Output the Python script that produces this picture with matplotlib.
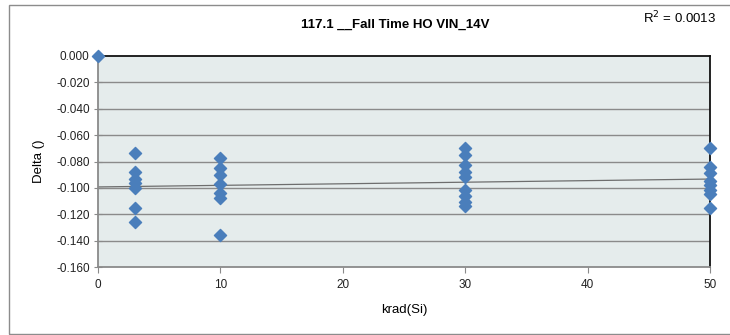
import numpy as np
import matplotlib.pyplot as plt
from matplotlib.patches import Rectangle

plt.rcParams['font.family'] = ['Liberation Sans', 'DejaVu Sans']

# data
krad = [0,
        3, 3, 3, 3, 3, 3, 3,
        10, 10, 10, 10, 10, 10, 10,
        30, 30, 30, 30, 30, 30, 30, 30, 30,
        50, 50, 50, 50, 50, 50, 50, 50]
delta = [0.0,
         -0.0734, -0.0883, -0.0935, -0.096, -0.1004, -0.1155, -0.1257,
         -0.0775, -0.0851, -0.0902, -0.0973, -0.104, -0.1074, -0.1357,
         -0.070, -0.075, -0.0827, -0.0877, -0.092, -0.1016, -0.106, -0.1105, -0.1138,
         -0.070, -0.084, -0.089, -0.095, -0.098, -0.1015, -0.105, -0.115]
yticks = [0.0, -0.02, -0.04, -0.06, -0.08, -0.10, -0.12, -0.14, -0.16]
xticks = [0, 10, 20, 30, 40, 50]

fig = plt.figure(figsize=(7.30, 3.35), dpi=100)
# outer chart frame
fig.patches.append(Rectangle((9/730, 1/335), 730/730, 329/335, transform=fig.transFigure,
                             fill=False, edgecolor='#8c8c8c', linewidth=1.0))

ax = fig.add_axes([98/730, 1-267/335, 612/730, 211/335])
ax.set_facecolor('#e5ecec')

for t in yticks[1:-1]:
    ax.axhline(t, color='#8a8a8a', linewidth=1.0, zorder=1)

# linear trendline (irradiated parts only, the 0 reference point left out)
p = np.polyfit(krad[1:], delta[1:], 1)
xs = np.array([0, 50])
ax.plot(xs, np.polyval(p, xs), color='#6e6e6e', linewidth=0.9, zorder=2)

ax.scatter(krad, delta, marker='D', s=38, color='#4a7ebb', edgecolors='#4a7ebb',
           zorder=3, clip_on=False)

ax.set_xlim(0, 50)
ax.set_ylim(-0.16, 0.0)
ax.set_xticks(xticks)
ax.set_yticks(yticks)
ax.set_yticklabels(['%.3f' % v for v in yticks])
ax.tick_params(axis='both', labelsize=8.5, colors='#222222')
ax.tick_params(axis='x', direction='out', length=4, color='#8a8a8a', pad=5)
ax.tick_params(axis='y', direction='inout', length=6, color='#8a8a8a', pad=3)

ax.spines['top'].set_color('#111111')
ax.spines['right'].set_color('#111111')
ax.spines['left'].set_color('#8a8a8a')
ax.spines['bottom'].set_color('#8a8a8a')
for s in ax.spines.values():
    s.set_linewidth(1.3)

ax.set_xlabel('krad(Si)', fontsize=9.5, labelpad=9)
ax.set_ylabel('Delta ()', fontsize=9.5, labelpad=8)

fig.text(395/730, 1-25/335, '117.1 __Fall Time HO VIN_14V', ha='center', va='center',
         fontsize=9.5, fontweight='bold')
fig.text(680/730, 1-18/335, 'R$^2$ = 0.0013', ha='center', va='center', fontsize=9.5)

fig.savefig('out.png', dpi=100)
